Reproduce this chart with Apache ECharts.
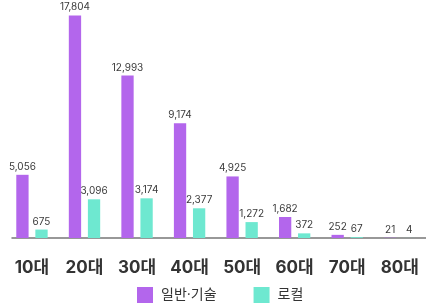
<!DOCTYPE html>
<html><head><meta charset="utf-8">
<script src="https://cdn.jsdelivr.net/npm/echarts@6/dist/echarts.min.js"></script>
<style>html,body{margin:0;padding:0;background:#fff}#c{width:426px;height:305px}</style>
</head><body><div id="c"></div>
<script>
var categories = ['10대','20대','30대','40대','50대','60대','70대','80대'];
var generalTech = [5056, 17804, 12993, 9174, 4925, 1682, 252, 21];
var local = [675, 3096, 3174, 2377, 1272, 372, 67, 4];
var seriesNames = ['일반·기술', '로컬'];

var FONT = "Inter, 'Noto Sans CJK KR', sans-serif";
var chart = echarts.init(document.getElementById('c'), null, {renderer:'canvas'});
var labelCfg = {show:true, position:'top', distance:3, fontSize:10, color:'#3a3a3a', fontFamily:FONT,
  formatter:function(p){return p.value.toLocaleString('en-US');}};
chart.setOption({
  animation:false,
  backgroundColor:'#fff',
  grid:[
    {left:5.7, right:-8.5, top:13, bottom:67},
    {left:12, right:0, top:13, bottom:67}
  ],
  legend:{
    data:seriesNames, left:137, top:287, padding:0, itemWidth:16, itemHeight:16, itemGap:37,
    icon:'rect', textStyle:{fontSize:14, color:'#333', fontFamily:FONT, padding:[0,0,0,3]}
  },
  xAxis:[
    {type:'category', data:categories, gridIndex:0, axisLine:{show:false}, axisTick:{show:false},
     axisLabel:{fontSize:17, fontWeight:'bold', color:'#333', margin:21, fontFamily:FONT}},
    {type:'value', gridIndex:1, min:0, max:1, axisLine:{show:true, lineStyle:{color:'#777', width:1.5}},
     axisTick:{show:false}, axisLabel:{show:false}, splitLine:{show:false}}
  ],
  yAxis:[
    {type:'value', gridIndex:0, min:0, max:18000, show:false, splitLine:{show:false}},
    {type:'value', gridIndex:1, min:0, max:1, show:false}
  ],
  series:[
    {name:seriesNames[0], type:'bar', data:generalTech, barWidth:12.3, barGap:'55%',
     itemStyle:{color:'#b366ec'}, label:labelCfg},
    {name:seriesNames[1], type:'bar', data:local, barWidth:12.3,
     itemStyle:{color:'#6ee8d0'}, label:labelCfg}
  ]
});
</script></body></html>
